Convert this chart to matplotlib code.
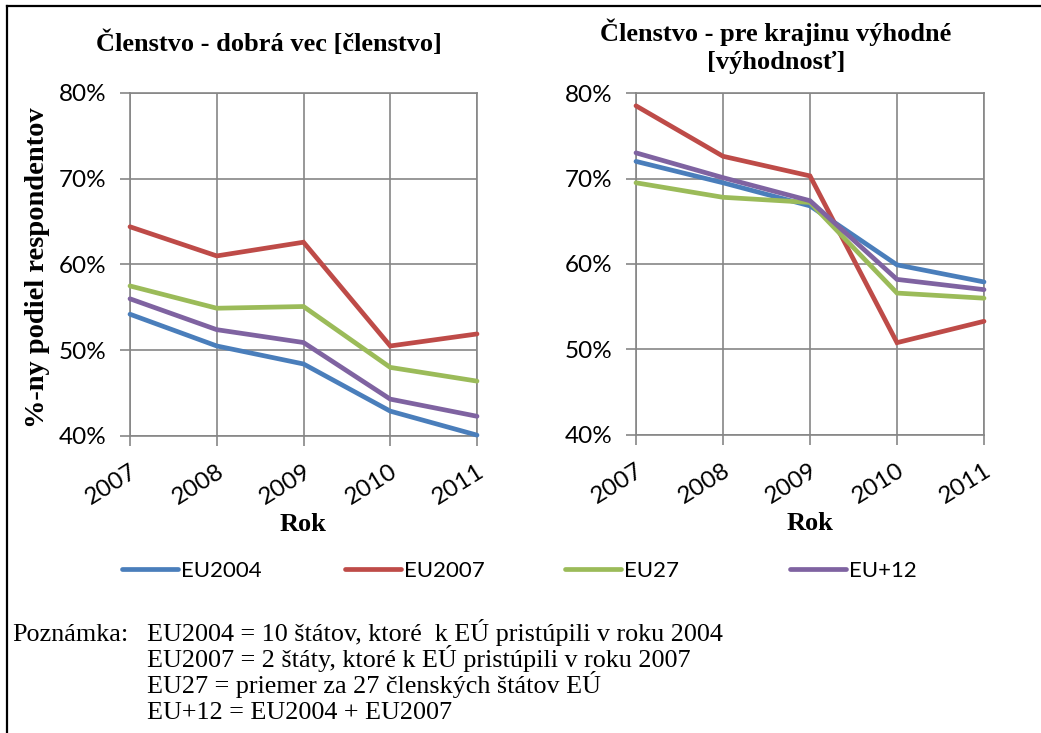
import matplotlib
matplotlib.use('Agg')
import matplotlib.pyplot as plt
from matplotlib.lines import Line2D
from matplotlib.ticker import FuncFormatter

years = [2007, 2008, 2009, 2010, 2011]
series_names = ['EU2004', 'EU2007', 'EU27', 'EU+12']
colors = ['#4A7EBB', '#BE4B48', '#9BBB59', '#7F63A1']

# Členstvo - dobrá vec
clenstvo_eu2004 = [54.2, 50.5, 48.4, 42.9, 40.1]
clenstvo_eu2007 = [64.4, 61.0, 62.6, 50.5, 51.9]
clenstvo_eu27 = [57.5, 54.9, 55.1, 48.0, 46.4]
clenstvo_eu12 = [56.0, 52.4, 50.9, 44.3, 42.3]

# Členstvo - pre krajinu výhodné
vyhodnost_eu2004 = [72.0, 69.5, 66.8, 59.9, 57.9]
vyhodnost_eu2007 = [78.5, 72.6, 70.3, 50.8, 53.3]
vyhodnost_eu27 = [69.5, 67.8, 67.2, 56.6, 56.0]
vyhodnost_eu12 = [73.0, 70.1, 67.4, 58.2, 57.0]

titles = ['Členstvo - dobrá vec [členstvo]',
          'Členstvo - pre krajinu výhodné\n[výhodnosť]']
notes = ['EU2004 = 10 štátov, ktoré  k EÚ pristúpili v roku 2004',
         'EU2007 = 2 štáty, ktoré k EÚ pristúpili v roku 2007',
         'EU27 = priemer za 27 členských štátov EÚ',
         'EU+12 = EU2004 + EU2007']

serif = 'Liberation Serif'
sans = ['Lato', 'DejaVu Sans']
grid_c = '#868686'

W, H = 1041, 733
fig = plt.figure(figsize=(W / 100, H / 100), dpi=100)


def box(x0, y0, x1, y1):
    return [x0 / W, 1 - y1 / H, (x1 - x0) / W, (y1 - y0) / H]


ax1 = fig.add_axes(box(130, 93, 477, 436))
ax2 = fig.add_axes(box(636, 93, 984, 435))

data = [
    [clenstvo_eu2004, clenstvo_eu2007, clenstvo_eu27, clenstvo_eu12],
    [vyhodnost_eu2004, vyhodnost_eu2007, vyhodnost_eu27, vyhodnost_eu12],
]

for ax, vals in zip([ax1, ax2], data):
    for name, v, c in zip(series_names, vals, colors):
        ax.plot(years, v, color=c, lw=3.4, label=name, solid_capstyle='round',
                solid_joinstyle='miter', zorder=3, clip_on=False)
    ax.set_xlim(2007, 2011)
    ax.set_ylim(40, 80)
    ax.set_xticks(years)
    ax.set_yticks([40, 50, 60, 70, 80])
    ax.yaxis.set_major_formatter(FuncFormatter(lambda v, p: f'{v:.0f}%'))
    ax.grid(True, color=grid_c, lw=1.2)
    for s in ax.spines.values():
        s.set_color(grid_c)
        s.set_linewidth(1.2)
    ax.tick_params(axis='both', color=grid_c, width=1.2, length=7, direction='out')
    ax.tick_params(axis='y', labelsize=17.5, pad=10)
    ax.tick_params(axis='x', labelsize=17.5, pad=11)
    for lab in ax.get_yticklabels():
        lab.set_family(sans)
    for lab in ax.get_xticklabels():
        lab.set_family(sans)
        lab.set_rotation(32)
        lab.set_ha('right')
        lab.set_rotation_mode('anchor')
    ax.set_xlabel('Rok', fontsize=19, fontweight='bold', family=serif, labelpad=3)

fig.text(269 / W, 1 - 43 / H, titles[0], ha='center', va='center',
         fontsize=19, fontweight='bold', family=serif)
fig.text(776 / W, 1 - 46 / H, titles[1], ha='center', va='center',
         fontsize=19, fontweight='bold', family=serif, linespacing=1.25)
fig.text(38 / W, 1 - 268 / H, '%-ny podiel respondentov', rotation=90,
         ha='center', va='center', fontsize=20.5, fontweight='bold', family=serif)

# legend entries are spread evenly, one small legend per series
handles, labels = ax1.get_legend_handles_labels()
legend_x = [122, 345, 565, 790]
for h, l, x in zip(handles, labels, legend_x):
    fig.legend([h], [l], loc='center left', bbox_to_anchor=(x / W, 1 - 571 / H),
               frameon=False, borderpad=0, borderaxespad=0, handlelength=2.5,
               handletextpad=0.15, prop={'family': sans, 'size': 16})

fig.text(12 / W, 1 - 641 / H, 'Poznámka:', ha='left', va='baseline',
         fontsize=18.8, family=serif)
for i, n in enumerate(notes):
    fig.text(147 / W, 1 - (641 + 26 * i) / H, n, ha='left', va='baseline',
             fontsize=18.8, family=serif)

# frame around the figure
fig.add_artist(Line2D([7 / W, 7 / W], [0, 1 - 6 / H], color='black', lw=1.6,
                      transform=fig.transFigure))
fig.add_artist(Line2D([7 / W, 1], [1 - 6 / H, 1 - 6 / H], color='black', lw=1.6,
                      transform=fig.transFigure))

fig.savefig('out.png', dpi=100)
